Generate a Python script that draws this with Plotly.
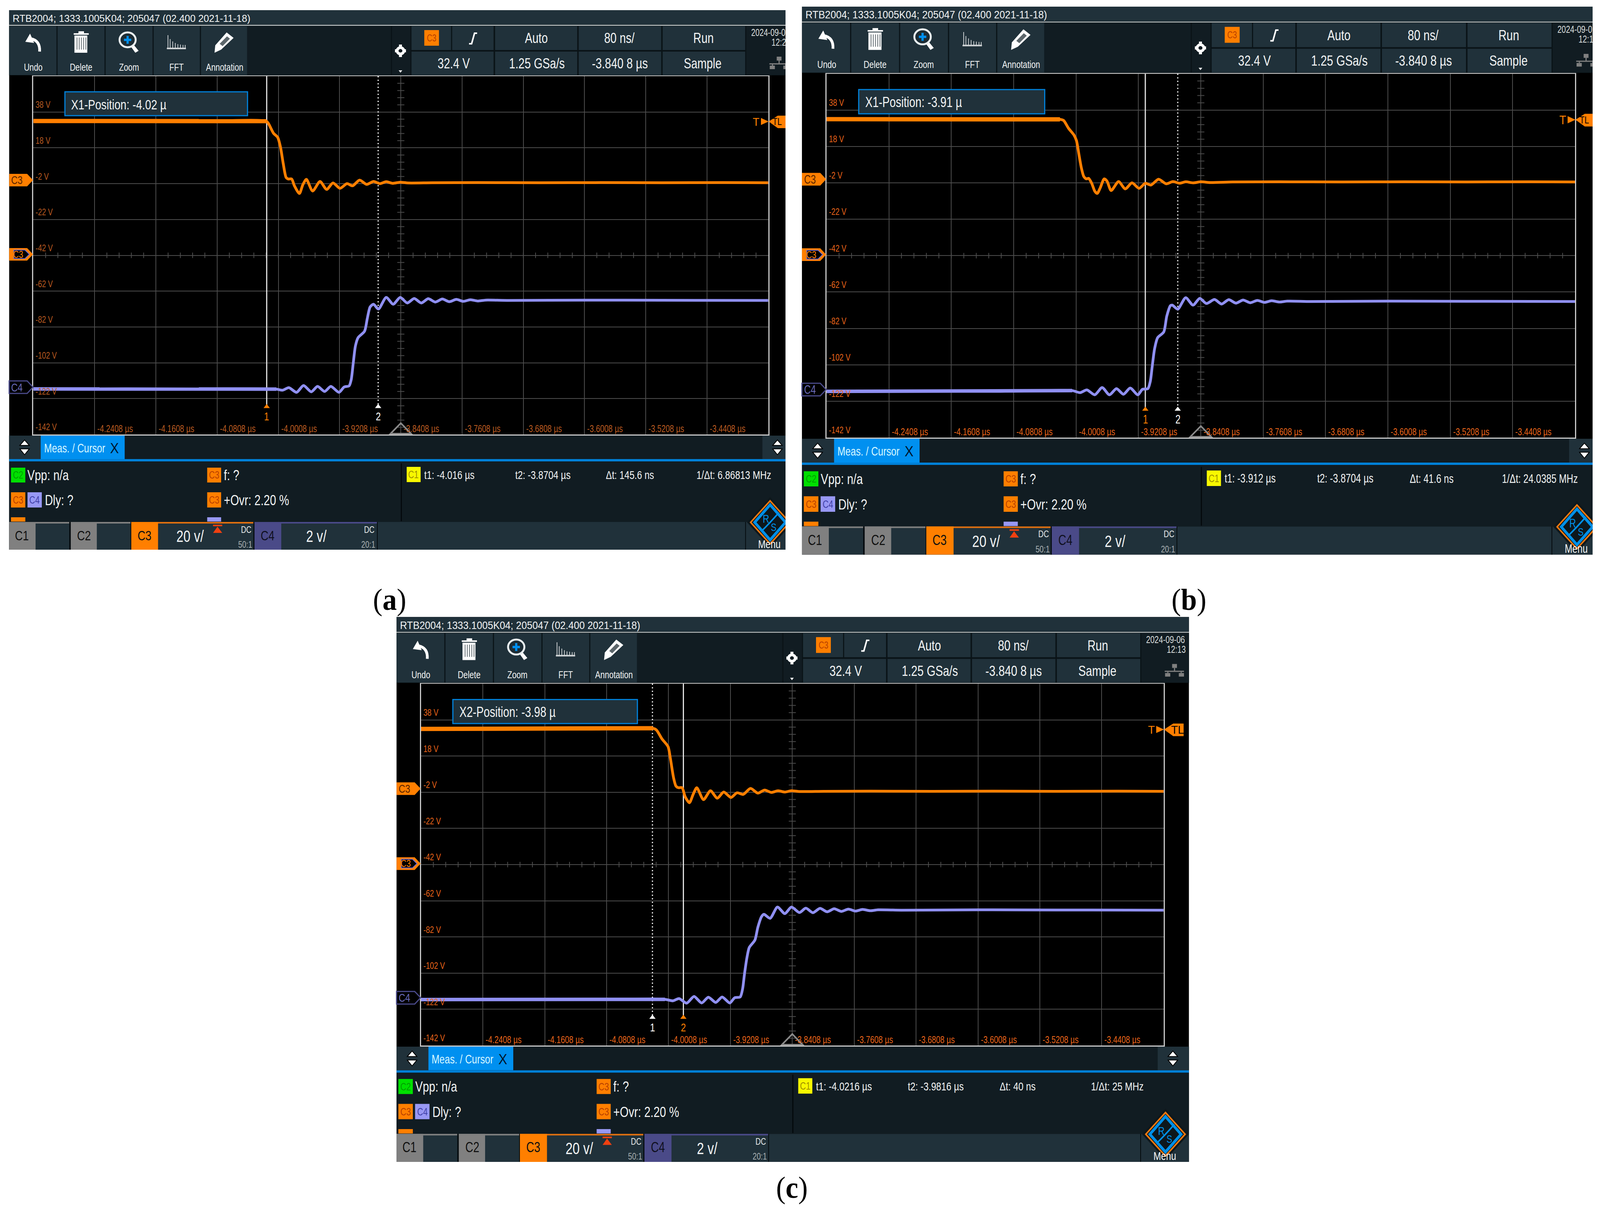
import plotly.graph_objects as go

W, H = 4363, 3092      # reference size: every layout position below is a fraction of this
PAGE_W = 4096          # width of the browser viewport that really opens the page

# ---------- data (time in microseconds, volts on the C3 scale) ----------
x_tick_values = [-4.2408, -4.1608, -4.0808, -4.0008, -3.9208, -3.8408, -3.7608, -3.6808, -3.6008, -3.5208, -3.4408]
x_tick_labels = ["-4.2408 µs", "-4.1608 µs", "-4.0808 µs", "-4.0008 µs", "-3.9208 µs", "-3.8408 µs",
                 "-3.7608 µs", "-3.6808 µs", "-3.6008 µs", "-3.5208 µs", "-3.4408 µs"]
y_tick_values = [38, 18, -2, -22, -42, -62, -82, -102, -122, -142]
y_tick_labels = ["38 V", "18 V", "-2 V", "-22 V", "-42 V", "-62 V", "-82 V", "-102 V", "-122 V", "-142 V"]

t_head = [-4.3208, -4.2, -4.1]
v_orange_head = [33.0, 33.1, 32.9]
v_purple_head = [-116.6, -116.5, -116.6]
t_orange_tail = [-3.80, -3.74, -3.66, -3.58, -3.50, -3.42, -3.3608]
v_orange_tail = [-1.5, -1.4, -1.5, -1.4, -1.5, -1.4, -1.5]
t_purple_tail = [-3.8233, -3.8141, -3.8050, -3.7958, -3.7866, -3.7775, -3.7683, -3.7592, -3.75, -3.74, -3.73, -3.70, -3.60, -3.50, -3.3608]
v_purple_tail = [-66.1, -68.6, -66.2, -68.1, -66.4, -67.9, -66.6, -67.7, -66.8, -67.5, -67.0, -67.2, -67.0, -67.1, -67.2]

t_orange_a = [-4.0164, -4.0136, -4.0072, -4.0017, -3.9981, -3.9944, -3.9907, -3.9880, -3.9834, -3.9798, -3.9733, -3.9688,
              -3.9642, -3.9560, -3.9464, -3.9377, -3.9294, -3.9203, -3.9111, -3.9038, -3.8947, -3.8855, -3.8764, -3.8681,
              -3.8599, -3.8517, -3.8416, -3.8315]
v_orange_a = [32.9, 31.5, 26.2, 23.9, 18.6, 9.2, 1.5, 0.6, 0.6, -3.2, -7.5, -2.6,
              0.4, -6.1, -0.8, -5.2, -1.6, -4.6, -2.0, -3.2, 0.0, -2.4, -0.8, -2.0,
              -0.9, -1.8, -1.2, -1.6]
t_purple_a = [-4.0035, -3.9953, -3.9871, -3.9770, -3.9679, -3.9578, -3.9496, -3.9404, -3.9322, -3.9216, -3.9148, -3.9084,
              -3.9056, -3.9029, -3.9001, -3.8965, -3.8882, -3.8846, -3.8809, -3.8764, -3.8700, -3.8599, -3.8508, -3.8416, -3.8324]
v_purple_a = [-116.7, -117.3, -115.9, -118.5, -114.7, -118.2, -115.2, -118.0, -115.2, -118.5, -115.5, -114.9,
              -111.4, -102.0, -92.6, -87.9, -84.4, -77.3, -70.8, -69.3, -72.0, -65.5, -69.3, -65.5, -68.6]

t_orange_b = [-4.0215, -4.0168, -4.0105, -4.0035, -4.0003, -3.9972, -3.9941, -3.9909, -3.9878, -3.9847, -3.9808, -3.9768,
              -3.9737, -3.9698, -3.9648, -3.9612, -3.9558, -3.9463, -3.9377, -3.9291, -3.9200, -3.9119, -3.9048, -3.8950,
              -3.8853, -3.8766, -3.8680, -3.8602, -3.8508, -3.8409, -3.8288]
v_orange_b = [32.9, 32.3, 28.0, 24.3, 21.2, 13.8, 6.4, 1.5, 0.2, 0.5, -2.2, -6.6,
              -7.8, -4.7, 0.2, -1.0, -6.2, -1.3, -5.3, -2.0, -5.0, -2.2, -3.2, 0.0,
              -2.5, -1.3, -2.2, -1.4, -2.0, -1.4, -1.8]
t_purple_b = [-4.0058, -3.9956, -3.9870, -3.9768, -3.9674, -3.9580, -3.9490, -3.9400, -3.9314, -3.9216, -3.9158, -3.9087,
              -3.9056, -3.9032, -3.9001, -3.8962, -3.8884, -3.8845, -3.8798, -3.8774, -3.8704, -3.8602, -3.8508, -3.8422, -3.8336]
v_purple_b = [-116.2, -117.3, -115.8, -118.5, -114.5, -118.5, -115.1, -118.2, -114.8, -118.5, -115.5, -115.1,
              -111.1, -103.1, -93.2, -87.1, -84.0, -75.3, -69.5, -69.2, -71.4, -65.1, -69.2, -65.5, -68.3]

t_orange_c = [-4.0212, -4.0164, -4.0093, -4.0014, -3.9983, -3.9943, -3.9912, -3.9880, -3.9833, -3.9793, -3.9738, -3.9690,
              -3.9643, -3.9556, -3.9466, -3.9378, -3.9295, -3.9201, -3.9122, -3.9043, -3.8948, -3.8853, -3.8766, -3.8679,
              -3.8592, -3.8505, -3.8419, -3.8316]
v_orange_c = [33.4, 32.4, 27.5, 23.2, 16.4, 6.0, 1.4, 0.5, 0.5, -4.5, -7.8, -3.2,
              0.5, -6.1, -1.2, -5.3, -1.9, -4.9, -2.3, -3.2, 0.1, -2.5, -0.8, -2.1,
              -1.2, -1.9, -1.2, -1.6]
t_purple_c = [-4.0054, -3.9951, -3.9872, -3.9773, -3.9678, -3.9580, -3.9493, -3.9398, -3.9315, -3.9216, -3.9153, -3.9082,
              -3.9050, -3.9027, -3.8995, -3.8964, -3.8892, -3.8853, -3.8806, -3.8774, -3.8695, -3.8600, -3.8505, -3.8419, -3.8316]
v_purple_c = [-116.5, -117.3, -116.1, -118.6, -114.9, -118.5, -115.3, -118.2, -115.2, -118.5, -115.6, -115.2,
              -110.6, -102.8, -93.6, -87.8, -83.8, -76.6, -70.8, -69.5, -71.7, -65.5, -69.1, -65.5, -68.5]

cursor_t1 = [-4.016, -3.912, -4.0216]
cursor_t2 = [-3.8704, -3.8704, -3.9816]
active_cursor = [1, 1, 2]
box_texts = ["X1-Position: -4.02 µ", "X1-Position: -3.91 µ", "X2-Position: -3.98 µ"]
readout_t1 = ["t1: -4.016 µs", "t1: -3.912 µs", "t1: -4.0216 µs"]
readout_t2 = ["t2: -3.8704 µs", "t2: -3.8704 µs", "t2: -3.9816 µs"]
readout_dt = ["Δt: 145.6 ns", "Δt: 41.6 ns", "Δt: 40 ns"]
readout_f = ["1/Δt: 6.86813 MHz", "1/Δt: 24.0385 MHz", "1/Δt: 25 MHz"]
date_lines = [("2024-09-0", "12:2"), ("2024-09-0", "12:1"), ("2024-09-06", "12:13")]
captions = ["a", "b", "c"]
trigger_level = 32.4
center_time = -3.8408
center_volt = -42

# ---------- layout of the three screens, in reference pixels ----------
X_RANGE = [-4.3208, -3.3608]
Y_RANGE = [-142, 58]
panels = [
    dict(px0=91, px1=2095, py0=195, py1=1112, left=25, right=2142, cap=(1062, 1535), label="#b85a20"),
    dict(px0=2254, px1=4295, py0=188.7, py1=1120, left=2186, right=4343, cap=(3242, 1535), label="#e8641a"),
    dict(px0=1148, px1=3173, py0=1750, py1=2676, left=1081, right=3242, cap=(2160, 3039), label="#e8641a"),
]
traces_by_panel = [
    (t_orange_a, v_orange_a, t_purple_a, v_purple_a),
    (t_orange_b, v_orange_b, t_purple_b, v_purple_b),
    (t_orange_c, v_orange_c, t_purple_c, v_purple_c),
]

ORANGE = "#ff7f00"
PURPLE = "#9090f2"
PANEL = "#20313a"
DARK = "#111c22"
GAP = "#0a1317"
BLUE = "#0090f0"
LINE_BLUE = "#0080d8"
SANS = "Liberation Sans"
SERIF = "Liberation Serif"
SQUEEZE_NARROW = 0.77     # condensed look of the instrument font
SQUEEZE_PAGE = round(PAGE_W / W, 3)

fig = go.Figure()
shapes = []
notes = []


def fx(p):
    return p / W


def fy(p):
    return 1 - p / H


for i, (p, tr) in enumerate(zip(panels, traces_by_panel)):
    sx = (p["px1"] - p["px0"]) / 2004
    sy = (p["py1"] - p["py0"]) / 917
    mx = lambda X, p=p, sx=sx: p["px0"] + (X - 91) * sx
    my = lambda Y, p=p, sy=sy: p["py0"] + (Y - 195) * sy
    xe = 91 + (p["right"] - p["px0"]) / sx
    suffix = "" if i == 0 else str(i + 1)
    xa, ya = "x" + suffix, "y" + suffix

    def rect(x0, y0, x1, y1, fill, layer="above", line=None):
        shapes.append(dict(type="rect", xref="paper", yref="paper", x0=fx(mx(x0)), x1=fx(mx(x1)),
                           y0=fy(my(y0)), y1=fy(my(y1)), fillcolor=fill, layer=layer,
                           line=dict(width=0) if line is None else line))

    def poly(pts, fill=None, line=None, close=True):
        path = "M " + " L ".join(f"{fx(mx(a)):.5f} {fy(my(b)):.5f}" for a, b in pts) + (" Z" if close else "")
        shapes.append(dict(type="path", xref="paper", yref="paper", path=path,
                           fillcolor=fill if fill else "rgba(0,0,0,0)", layer="above",
                           line=dict(width=0) if line is None else line))

    def curve(a, b, c, line):
        path = (f"M {fx(mx(a[0])):.5f} {fy(my(a[1])):.5f} Q {fx(mx(b[0])):.5f} {fy(my(b[1])):.5f} "
                f"{fx(mx(c[0])):.5f} {fy(my(c[1])):.5f}")
        shapes.append(dict(type="path", xref="paper", yref="paper", path=path, layer="above", line=line))

    def ellipse(cx, cy, rx, ry, fill, line):
        shapes.append(dict(type="circle", xref="paper", yref="paper", x0=fx(mx(cx - rx)), x1=fx(mx(cx + rx)),
                           y0=fy(my(cy - ry)), y1=fy(my(cy + ry)), fillcolor=fill, layer="above", line=line))

    def text(X, Y, s, size=37, color="#f2f4f4", anchor="left", squeeze=SQUEEZE_NARROW):
        notes.append(dict(xref="paper", yref="paper", x=fx(mx(X)), y=fy(my(Y)), text=s, showarrow=False,
                          xanchor=anchor, yanchor="middle", borderpad=0, name=str(squeeze),
                          font=dict(family=SANS, size=size * sy, color=color)))

    # screen background
    rect(25, 26, xe, 1407, "#000000", layer="below")
    # header
    rect(25, 26, xe, 63, PANEL)
    rect(25, 63.5, xe, 66, "#c4ccce")
    text(33, 47, "RTB2004; 1333.1005K04; 205047 (02.400 2021-11-18)", 26.5, "#f2f4f4", squeeze=SQUEEZE_PAGE)
    # toolbar
    rect(25, 66, xe, 193, GAP)
    tool_cells = [(25, 154), (157, 285), (288, 416), (419, 545), (548, 674)]
    tool_labels = ["Undo", "Delete", "Zoom", "FFT", "Annotation"]
    tool_centers = [91, 221, 351, 481, 612]
    for (a, b), lab, c in zip(tool_cells, tool_labels, tool_centers):
        rect(a, 67, b, 192, PANEL)
        text(c, 172, lab, 26, anchor="center")
    rect(674, 67, 1066, 192, DARK)
    rect(1069, 67, 1119, 192, DARK)
    for a, b in [(1122, 1230), (1233, 1346), (1350, 1574), (1578, 1803), (1807, 2032)]:
        rect(a, 67, b, 128, PANEL)
    for a, b in [(1122, 1346), (1350, 1574), (1578, 1803), (1807, 2032)]:
        rect(a, 132, b, 192, PANEL)
    rect(2035, 67, xe, 192, DARK)
    # undo icon
    poly([(82, 86), (69, 107), (93, 110)], "#ffffff")
    curve((84, 99), (110, 104), (108, 132), dict(color="#ffffff", width=7))
    # trash icon
    rect(201, 85, 242, 89, "#ffffff")
    rect(214, 80, 229, 85, "#ffffff")
    rect(203, 91, 238, 135, "#ffffff")
    for a in (209, 215, 221, 227, 233):
        rect(a, 96, a + 2, 127, "#5c666b")
    # zoom icon
    poly([(356, 118), (364, 114), (378, 130), (369, 135)], "#ffffff")
    ellipse(348, 102, 22, 19, "#1d2c34", dict(color="#e8eef0", width=5))
    rect(338, 99, 358, 105, "#0090f0")
    rect(345, 92, 351, 112, "#0090f0")
    # FFT icon
    rect(455, 122, 507, 126, "#d0d4d6")
    for a, top in zip((457, 463, 470, 477, 484, 491, 498, 504), (90, 100, 106, 110, 113, 114, 115, 115)):
        rect(a, top, a + 2, 124, "#d0d4d6")
    # pencil icon
    poly([(618, 83), (637, 97), (603, 127), (585, 135), (587, 116)], "#ffffff")
    poly([(619, 93), (627, 99), (607, 118), (599, 112)], "#5c666b")
    # gear
    ellipse(1092, 130, 9, 8, "rgba(0,0,0,0)", dict(color="#ffffff", width=7))
    for a, b, c, d in [(1088, 114, 1096, 119), (1088, 141, 1096, 146), (1077, 126, 1082, 134), (1102, 126, 1107, 134)]:
        rect(a, b, c, d, "#ffffff")
    poly([(1087, 180), (1097, 180), (1092, 186)], "#ffffff")
    # trigger cells
    rect(1157, 77, 1197, 117, ORANGE)
    text(1177, 97, "C3", 25, "#b84000", "center")
    poly([(1279, 112), (1286, 112), (1294, 85), (1301, 85)], None, dict(color="#ffffff", width=4), close=False)
    for X, Y, s in [(1463, 98, "Auto"), (1689, 98, "80 ns/"), (1918, 98, "Run"), (1237, 162, "32.4 V"),
                    (1464, 162, "1.25 GSa/s"), (1690, 162, "-3.840 8 µs"), (1916, 162, "Sample")]:
        text(X, Y, s, 37, anchor="center")
    text(2047, 83, date_lines[i][0], 25, "#d8dcdc")
    text(2103, 108, date_lines[i][1], 25, "#d8dcdc")
    # network icon
    rect(2118, 145, 2131, 155, "#808080")
    rect(2123, 155, 2126, 163, "#808080")
    rect(2098, 162, 2150, 165, "#808080")
    rect(2105, 165, 2108, 168, "#808080")
    rect(2141, 165, 2144, 168, "#808080")
    rect(2099, 168, 2113, 177, "#808080")
    rect(2136, 168, 2150, 177, "#808080")

    # channel markers
    poly([(25, 445), (74, 445), (90, 461), (74, 477), (25, 477)], ORANGE)
    text(46, 461, "C3", 30, "#5a2400", "center")
    poly([(25, 635), (74, 635), (90, 651), (74, 667), (25, 667)], ORANGE)
    poly([(38, 640), (68, 640), (80, 651), (68, 662), (38, 662)], "#000000", dict(color="#6a6ad0", width=2))
    text(50, 651, "C3", 26, ORANGE, "center")
    poly([(25, 975), (74, 975), (90, 991), (74, 1007), (25, 1007)], "#000000", dict(color="#4a4a8a", width=3))
    text(46, 991, "C4", 30, "#6a6ab8", "center")

    # trigger level markers
    poly([(2075, 302), (2096, 311), (2075, 320)], ORANGE)
    poly([(2096, 311), (2121, 296), (2149, 296), (2149, 328), (2121, 328)], ORANGE)
    text(2052, 311, "T", 30, ORANGE, squeeze=SQUEEZE_PAGE)
    text(2106 if i < 2 else 2114, 311, "TL", 26 if i < 2 else 30, "#000000",
         squeeze=SQUEEZE_NARROW if i < 2 else SQUEEZE_PAGE)

    # position box
    rect(177, 235, 675, 296, PANEL, line=dict(color=LINE_BLUE, width=3))
    text(193, 267, box_texts[i], 36)

    # trigger position triangle
    poly([(1065, 1110), (1093, 1083), (1121, 1110)], None, dict(color="#8a8a8a", width=4))

    # tab bar
    rect(25, 1115, xe, 1175, DARK)
    rect(25, 1115, 111, 1175, PANEL)
    rect(111, 1115, 340, 1175, BLUE)
    rect(2079, 1115, xe, 1175, PANEL)
    for c in (67, 2120):
        poly([(c - 13, 1140), (c, 1126), (c + 13, 1140)], "#ffffff", dict(color="#000000", width=2))
        poly([(c - 13, 1149), (c, 1164), (c + 13, 1149)], "#ffffff", dict(color="#000000", width=2))
    text(119, 1147, "Meas. / Cursor", 31, "#d8f8ff")
    text(312, 1147, "X", 36, "#001830", "center", squeeze=SQUEEZE_PAGE)
    rect(25, 1175, xe, 1181, LINE_BLUE)

    # measurement area
    rect(25, 1181, xe, 1336, DARK)
    rect(1093, 1186, 1096, 1334, "#04090c")

    def badge(x0, x1, y0, y1, fill, s, color):
        rect(x0, y0, x1, y1, fill)
        text((x0 + x1) / 2, (y0 + y1) / 2, s, 27, color, "center")

    badge(30, 69, 1197, 1235, "#00e000", "C2", "#00a000")
    text(74, 1216, "Vpp: n/a")
    badge(30, 69, 1260, 1299, ORANGE, "C3", "#b84000")
    badge(75, 114, 1260, 1299, "#9898f4", "C4", "#4040a8")
    text(121, 1280, "Dly: ?")
    badge(565, 603, 1197, 1235, ORANGE, "C3", "#b84000")
    text(609, 1216, "f: ?")
    badge(565, 603, 1260, 1299, ORANGE, "C3", "#b84000")
    text(609, 1280, "+Ovr: 2.20 %")
    rect(30, 1324, 69, 1335, ORANGE)
    rect(565, 1324, 603, 1335, "#9898f4")
    badge(1109, 1147, 1195, 1234, "#f8f800", "C1", "#a09000")
    text(1156, 1215, readout_t1[i], 30)
    text(1404, 1215, readout_t2[i], 30)
    text(1651, 1215, readout_dt[i], 30)
    text(1898, 1215, readout_f[i], 30)

    # channel strip
    rect(25, 1336, xe, 1407, PANEL)
    rect(25, 1336, 189, 1340, "#808080")
    rect(25, 1336, 97, 1407, "#808080")
    rect(189, 1336, 193, 1407, "#04090c")
    rect(193, 1336, 356, 1340, "#808080")
    rect(193, 1336, 264, 1407, "#808080")
    rect(356, 1336, 358, 1407, "#04090c")
    rect(358, 1336, 691, 1340, "#e07010")
    rect(358, 1336, 431, 1407, ORANGE)
    rect(691, 1336, 694, 1407, "#04090c")
    rect(694, 1336, 1028, 1340, "#4a4a88")
    rect(694, 1336, 767, 1407, "#4a4a88")
    rect(1028, 1336, 1030, 1407, "#04090c")
    rect(2032, 1336, 2034, 1407, "#04090c")
    text(60, 1370, "C1", 36, "#101010", "center")
    text(229, 1370, "C2", 36, "#101010", "center")
    text(394, 1370, "C3", 36, "#101010", "center")
    text(730, 1370, "C4", 36, "#101020", "center")
    text(518, 1373, "20 v/", 42, anchor="center")
    text(863, 1373, "2 v/", 42, anchor="center")
    text(687, 1355, "DC", 24, "#e8ecec", "right")
    text(1023, 1355, "DC", 24, "#e8ecec", "right")
    text(689, 1393, "50:1", 24, "#a8b0b2", "right")
    text(1025, 1393, "20:1", 24, "#a8b0b2", "right")
    rect(581, 1343, 606, 1347, "#f04010")
    poly([(593, 1348), (581, 1364), (606, 1364)], "#f04010")

    # logo
    poly([(2100, 1272), (2163, 1337), (2100, 1402), (2037, 1337)], "#0d171c")
    poly([(2100, 1282), (2153, 1337), (2100, 1392), (2047, 1337)], None, dict(color="#f07810", width=4))
    poly([(2100, 1292), (2142, 1337), (2100, 1382), (2058, 1337)], None, dict(color="#0090e8", width=7))
    curve((2076, 1360), (2098, 1340), (2124, 1312), dict(color="#0090e8", width=4))
    text(2089, 1328, "R", 30, "#0090e8", "center", squeeze=SQUEEZE_NARROW)
    text(2110, 1349, "S", 28, "#0090e8", "center", squeeze=SQUEEZE_NARROW)
    text(2098, 1392, "Menu", 30, anchor="center")

    # crop of the two cut-off screens
    if i < 2:
        shapes.append(dict(type="rect", xref="paper", yref="paper", x0=fx(p["right"]), x1=fx(min(p["right"] + 30, W)),
                           y0=fy(my(26) - 5), y1=fy(my(1407) + 5), fillcolor="#ffffff", layer="above", line=dict(width=0)))

    # ---------- axes ----------
    fig.update_layout({
        ("xaxis" + suffix): dict(domain=[fx(p["px0"]), fx(p["px1"])], range=X_RANGE, anchor=ya, tick0=center_time,
                                 dtick=0.08, showgrid=True, gridcolor="#4c4c4c", gridwidth=2, zeroline=False,
                                 showticklabels=False, ticks="", showline=True, mirror=True, linecolor="#c8c8c8",
                                 linewidth=3, fixedrange=True),
        ("yaxis" + suffix): dict(domain=[fy(p["py1"]), fy(p["py0"])], range=Y_RANGE, anchor=xa, tick0=-142,
                                 dtick=20, showgrid=True, gridcolor="#4c4c4c", gridwidth=2, zeroline=False,
                                 showticklabels=False, ticks="", showline=True, mirror=True, linecolor="#c8c8c8",
                                 linewidth=3, fixedrange=True),
    })

    # centre-line ticks
    v_ticks = [v for v in range(-138, 58, 4) if v != center_volt]
    t_ticks = [round(X_RANGE[0] + k * 0.016, 4) for k in range(1, 60)]
    fig.add_trace(go.Scatter(x=[center_time] * len(v_ticks), y=v_ticks, mode="markers", xaxis=xa, yaxis=ya,
                             marker=dict(symbol="line-ew", size=13, line=dict(color="#4c4c4c", width=2)),
                             hoverinfo="skip", showlegend=False))
    fig.add_trace(go.Scatter(x=t_ticks, y=[center_volt] * len(t_ticks), mode="markers", xaxis=xa, yaxis=ya,
                             marker=dict(symbol="line-ns", size=10, line=dict(color="#4c4c4c", width=2)),
                             hoverinfo="skip", showlegend=False))

    # axis labels inside the plot
    for tv, tl in zip(x_tick_values, x_tick_labels):
        notes.append(dict(xref=xa, yref=ya, x=tv, y=-138.7, text=tl, showarrow=False, xanchor="left",
                          yanchor="middle", xshift=6, borderpad=0, name=str(SQUEEZE_NARROW),
                          font=dict(family=SANS, size=25 * sy, color=p["label"])))
    for yv, yl in zip(y_tick_values, y_tick_labels):
        notes.append(dict(xref=xa, yref=ya, x=X_RANGE[0], y=yv, text=yl, showarrow=False, xanchor="left",
                          yanchor="middle", xshift=5, yshift=19 * sy, borderpad=0, name=str(SQUEEZE_NARROW),
                          font=dict(family=SANS, size=24 * sy, color=p["label"])))

    # cursors
    for n, t in ((1, cursor_t1[i]), (2, cursor_t2[i])):
        active = active_cursor[i] == n
        fig.add_trace(go.Scatter(x=[t, t], y=[58, -126.5], mode="lines", xaxis=xa, yaxis=ya, hoverinfo="skip",
                                 showlegend=False,
                                 line=dict(color="#e4e4e4" if active else "#ffffff", width=3,
                                           dash="solid" if active else "3px,6px")))
        col = ORANGE if active else "#ffffff"
        fig.add_trace(go.Scatter(x=[t], y=[-126.5], mode="markers", xaxis=xa, yaxis=ya, hoverinfo="skip",
                                 showlegend=False, marker=dict(symbol="triangle-up", size=14, color=col)))
        notes.append(dict(xref=xa, yref=ya, x=t, y=-131.9, text=str(n), showarrow=False, xanchor="center",
                          yanchor="middle", borderpad=0, name=str(SQUEEZE_NARROW),
                          font=dict(family=SANS, size=30 * sy, color=col)))

    # waveforms
    to, vo, tp, vp = tr
    t_o = t_head + to + t_orange_tail
    v_o = v_orange_head + vo + v_orange_tail
    t_p = t_head + tp + t_purple_tail
    v_p = v_purple_head + vp + v_purple_tail
    fig.add_trace(go.Scatter(x=t_head + to[:1], y=v_orange_head + vo[:1], mode="lines", xaxis=xa, yaxis=ya,
                             name="C3 band", hoverinfo="skip", showlegend=False,
                             line=dict(color=ORANGE, width=11)))
    fig.add_trace(go.Scatter(x=t_head + tp[:1], y=v_purple_head + vp[:1], mode="lines", xaxis=xa, yaxis=ya,
                             name="C4 band", hoverinfo="skip", showlegend=False,
                             line=dict(color=PURPLE, width=9)))
    fig.add_trace(go.Scatter(x=t_o, y=v_o, mode="lines", xaxis=xa, yaxis=ya, name="C3", showlegend=False,
                             line=dict(color=ORANGE, width=7, shape="spline", smoothing=0.7)))
    fig.add_trace(go.Scatter(x=t_p, y=v_p, mode="lines", xaxis=xa, yaxis=ya, name="C4", showlegend=False,
                             line=dict(color=PURPLE, width=7, shape="spline", smoothing=0.7)))

    # caption
    notes.append(dict(xref="paper", yref="paper", x=fx(p["cap"][0]), y=fy(p["cap"][1]),
                      text=f"(<b>{captions[i]}</b>)", showarrow=False, xanchor="center", yanchor="middle",
                      name=str(SQUEEZE_PAGE), font=dict(family=SERIF, size=78, color="#000000")))

fig.update_layout(width=PAGE_W, height=H, margin=dict(l=0, r=0, t=0, b=0, pad=0), paper_bgcolor="#ffffff",
                  plot_bgcolor="#000000", showlegend=False, shapes=shapes, annotations=notes, hovermode=False)

squeeze_js = """
document.body.style.margin='0';document.body.style.overflow='hidden';
(function(){
  var gd=document.querySelector('.plotly-graph-div');
  function squeeze(){
    var anns=gd.layout.annotations||[];
    gd.querySelectorAll('g.annotation').forEach(function(g){
      var a=anns[+g.getAttribute('data-index')];
      var t=g.querySelector('text.annotation-text');
      if(!a||!t||!a.name)return;
      t.style.transformBox='fill-box';
      t.style.transformOrigin=a.xanchor+' center';
      t.style.transform='scaleX('+a.name+')';
    });
  }
  squeeze();setTimeout(squeeze,200);
})();
"""
fig.write_html("out.html", config=dict(displayModeBar=False), post_script=squeeze_js)
